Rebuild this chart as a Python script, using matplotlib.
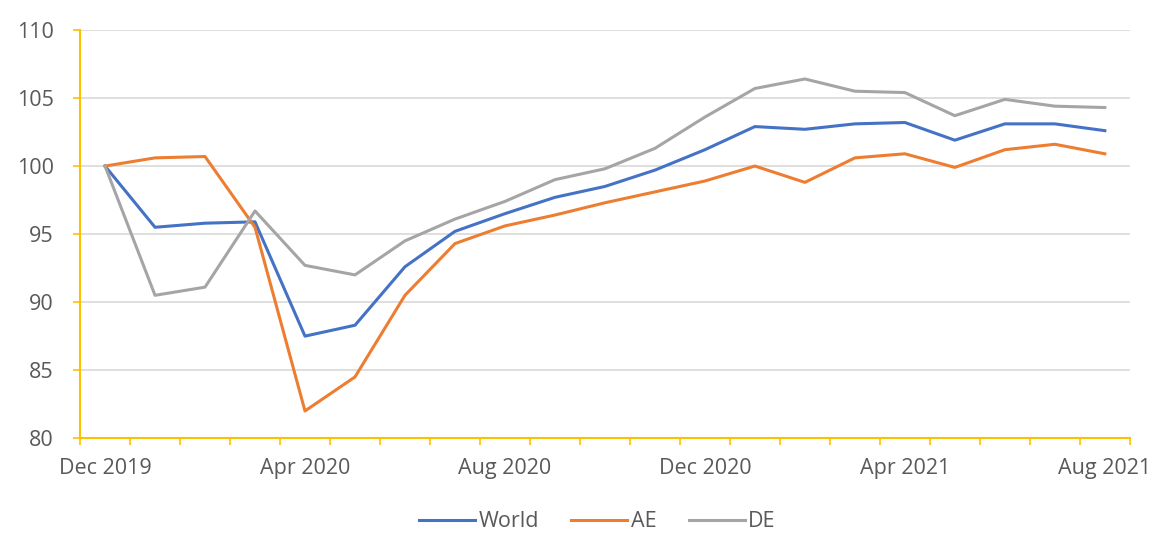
import matplotlib
matplotlib.use("Agg")
import matplotlib.pyplot as plt
import numpy as np

plt.rcParams['font.family'] = ['Open Sans', 'DejaVu Sans']

# Monthly index, Dec 2019 = 100
months = ['Dec 2019', 'Jan 2020', 'Feb 2020', 'Mar 2020', 'Apr 2020', 'May 2020',
          'Jun 2020', 'Jul 2020', 'Aug 2020', 'Sep 2020', 'Oct 2020', 'Nov 2020',
          'Dec 2020', 'Jan 2021', 'Feb 2021', 'Mar 2021', 'Apr 2021', 'May 2021',
          'Jun 2021', 'Jul 2021', 'Aug 2021']
world = [100.0, 95.5, 95.8, 95.9, 87.5, 88.3, 92.6, 95.2, 96.5, 97.7, 98.5, 99.7,
         101.2, 102.9, 102.7, 103.1, 103.2, 101.9, 103.1, 103.1, 102.6]
ae = [100.0, 100.6, 100.7, 95.5, 82.0, 84.5, 90.5, 94.3, 95.6, 96.4, 97.3, 98.1,
      98.9, 100.0, 98.8, 100.6, 100.9, 99.9, 101.2, 101.6, 100.9]
de = [100.0, 90.5, 91.1, 96.7, 92.7, 92.0, 94.5, 96.1, 97.4, 99.0, 99.8, 101.3,
      103.6, 105.7, 106.4, 105.5, 105.4, 103.7, 104.9, 104.4, 104.3]
label_every = 4

fig = plt.figure(figsize=(11.6, 5.45), dpi=100)
ax = fig.add_axes([0.069, 0.196, 0.905, 0.749])

x = np.arange(len(months))
ax.plot(x, world, color='#4472C4', lw=2.2, label='World')
ax.plot(x, ae, color='#ED7D31', lw=2.2, label='AE')
ax.plot(x, de, color='#A5A5A5', lw=2.2, label='DE')

ax.set_xlim(-0.5, len(months) - 0.5)
ax.set_ylim(80, 110)
ax.set_yticks(np.arange(80, 111, 5))
ax.yaxis.grid(True, color='#D9D9D9', lw=1.2)
ax.set_axisbelow(True)

ax.set_xticks(x[::label_every])
ax.set_xticklabels(months[::label_every])
ax.set_xticks(np.arange(-0.5, len(months), 1), minor=True)
ax.tick_params(axis='x', which='major', length=0, pad=14, labelsize=15.5, labelcolor='#595959')
ax.tick_params(axis='x', which='minor', length=5, color='#FFC000', width=1.2)
ax.tick_params(axis='y', length=5, color='#FFC000', width=1.2, labelsize=15.5,
               labelcolor='#595959', pad=14)

for s in ['top', 'right']:
    ax.spines[s].set_visible(False)
for s in ['left', 'bottom']:
    ax.spines[s].set_color('#FFC000')
    ax.spines[s].set_linewidth(1.5)

fig.legend(loc='lower center', bbox_to_anchor=(0.515, -0.012), ncol=3, frameon=False,
           fontsize=15.5, handlelength=2.6, handletextpad=0.15, columnspacing=1.5,
           labelcolor='#595959')

fig.savefig('out.png', dpi=100, facecolor='white')
